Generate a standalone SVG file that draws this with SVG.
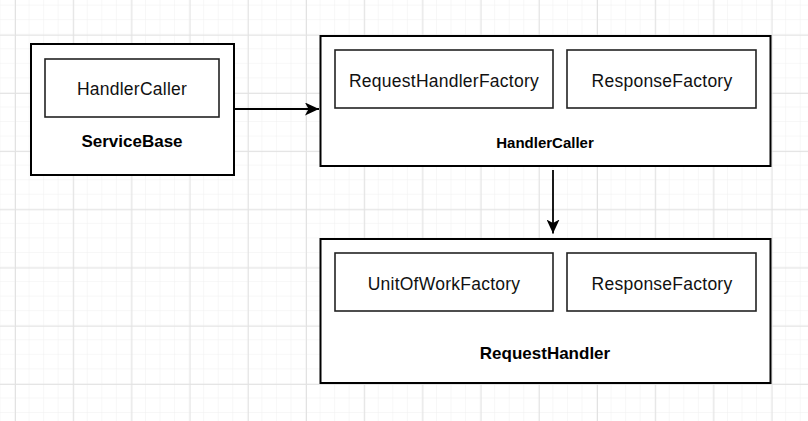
<svg xmlns="http://www.w3.org/2000/svg" width="808" height="421" viewBox="0 0 808 421">
<defs>
<pattern id="minor" patternUnits="userSpaceOnUse" x="0.45" y="5.6" width="14.55" height="14.55">
<path d="M14.55,0 V14.55 M0,14.55 H14.55" fill="none" stroke="#f0f0f0" stroke-width="1"/>
</pattern>
<pattern id="major" patternUnits="userSpaceOnUse" x="15" y="34.7" width="58.2" height="58.2">
<path d="M0.5,0 V58.2 M0,0.5 H58.2" fill="none" stroke="#e2e2e2" stroke-width="1"/>
</pattern>
<marker id="arrow" viewBox="0 0 14 13" refX="14" refY="6.5" markerWidth="14" markerHeight="13" markerUnits="userSpaceOnUse" orient="auto">
<path d="M0,0 L14,6.5 L0,13 L3.5,6.5 Z" fill="#000"/>
</marker>
<style>
.outer{fill:#fff;stroke:#000;stroke-width:2}
.inner{fill:#fff;stroke:#222;stroke-width:1.6}
.lbl{font-family:"Liberation Sans",Arial,sans-serif;font-size:17.5px;letter-spacing:0.25px;fill:#111;text-anchor:middle}
.title{font-family:"Liberation Sans",Arial,sans-serif;font-size:17px;font-weight:bold;fill:#000;text-anchor:middle}
.edge{fill:none;stroke:#000;stroke-width:1.8}
</style>
</defs>
<rect width="808" height="421" fill="#fff"/>
<rect width="808" height="421" fill="url(#minor)"/>
<rect width="808" height="421" fill="url(#major)"/>

<g id="ServiceBase">
<rect class="outer" x="31" y="44" width="203" height="131"/>
<text class="title" x="132" y="147">ServiceBase</text>
</g>
<g id="ServiceBase-HandlerCaller">
<rect class="inner" x="45" y="59" width="174" height="58"/>
<text class="lbl" x="132" y="95">HandlerCaller</text>
</g>

<g id="HandlerCaller">
<rect class="outer" x="320.5" y="36" width="450" height="130"/>
<text class="title" x="545" y="148.3" style="font-size:15px">HandlerCaller</text>
</g>
<g id="HandlerCaller-RequestHandlerFactory">
<rect class="inner" x="335" y="50" width="218" height="58"/>
<text class="lbl" x="444" y="87.3">RequestHandlerFactory</text>
</g>
<g id="HandlerCaller-ResponseFactory">
<rect class="inner" x="567" y="50" width="189" height="58"/>
<text class="lbl" x="662" y="87">ResponseFactory</text>
</g>

<g id="RequestHandler">
<rect class="outer" x="320.5" y="239" width="450" height="144"/>
<text class="title" x="545" y="359">RequestHandler</text>
</g>
<g id="RequestHandler-UnitOfWorkFactory">
<rect class="inner" x="335" y="253" width="218" height="58"/>
<text class="lbl" x="444" y="289.5">UnitOfWorkFactory</text>
</g>
<g id="RequestHandler-ResponseFactory">
<rect class="inner" x="567" y="253" width="189" height="58"/>
<text class="lbl" x="662" y="289.5">ResponseFactory</text>
</g>

<g id="connectors">
<path class="edge" d="M234,109 L319,109" marker-end="url(#arrow)"/>
<path class="edge" d="M553,170 L553,233.5" marker-end="url(#arrow)"/>
</g>
</svg>
